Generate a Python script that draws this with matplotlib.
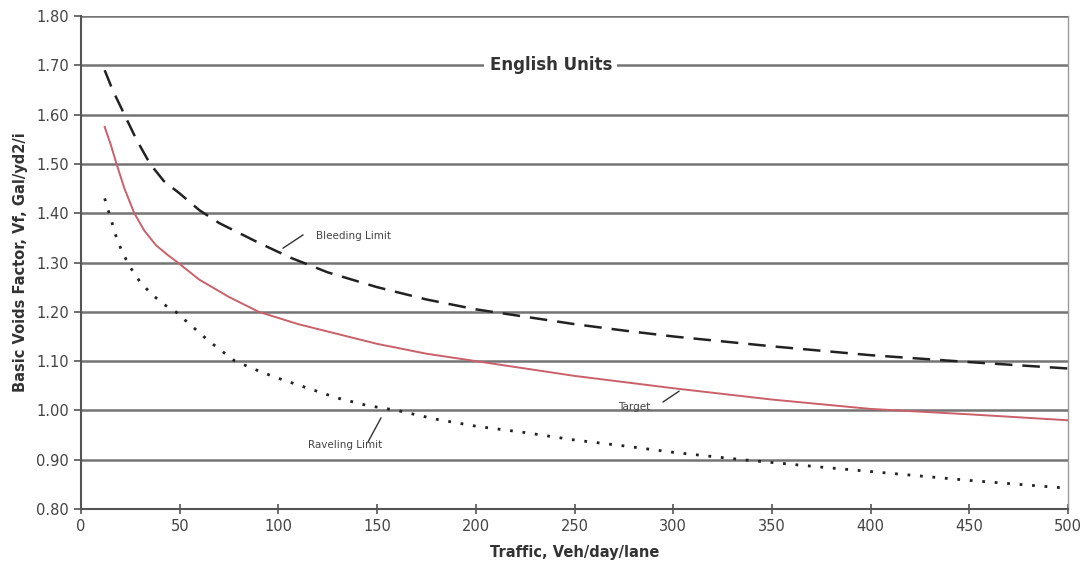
import matplotlib
matplotlib.use("Agg")
import matplotlib.pyplot as plt

# Data
bleed_x = [12, 16, 22, 28, 35, 42, 50, 60, 70, 80, 90, 106, 125, 150, 175, 200, 225, 250, 275, 300, 350, 400, 450, 500]
bleed_y = [1.69, 1.65, 1.60, 1.55, 1.50, 1.465, 1.44, 1.406, 1.38, 1.36, 1.34, 1.31, 1.28, 1.25, 1.225, 1.205, 1.19, 1.175, 1.162, 1.15, 1.13, 1.112, 1.098, 1.085]

target_x = [12, 15, 18, 22, 27, 32, 38, 44, 49, 60, 75, 90, 110, 130, 150, 175, 200, 250, 300, 350, 400, 450, 500]
target_y = [1.575, 1.54, 1.50, 1.45, 1.40, 1.365, 1.335, 1.315, 1.30, 1.265, 1.23, 1.20, 1.175, 1.155, 1.135, 1.115, 1.10, 1.07, 1.045, 1.022, 1.003, 0.992, 0.98]

ravel_x = [12, 15, 18, 21, 25, 30, 36, 42, 48, 55, 65, 78, 90, 100, 115, 130, 145, 160, 180, 200, 225, 250, 275, 300, 335, 375, 400, 450, 497]
ravel_y = [1.43, 1.39, 1.35, 1.32, 1.29, 1.26, 1.235, 1.215, 1.20, 1.175, 1.14, 1.10, 1.08, 1.065, 1.045, 1.025, 1.01, 1.00, 0.982, 0.968, 0.955, 0.94, 0.928, 0.915, 0.90, 0.885, 0.876, 0.858, 0.843]

yticks = [0.80, 0.90, 1.00, 1.10, 1.20, 1.30, 1.40, 1.50, 1.60, 1.70, 1.80]
xticks = [0, 50, 100, 150, 200, 250, 300, 350, 400, 450, 500]

fig = plt.figure(figsize=(10.89, 5.77), dpi=100)
ax = fig.add_axes([81/1089, 1-509/577, (1068-81)/1089, (509-16)/577])

for yv in yticks:
    ax.axhline(yv, color="#747474", lw=1.8, zorder=1)

ax.plot(bleed_x, bleed_y, color="#222222", lw=1.8, dashes=(7, 4), zorder=3)
ax.plot(target_x, target_y, color="#c9606a", lw=1.4, zorder=3)
ax.plot(ravel_x, ravel_y, color="#222222", lw=2.0, dashes=(1, 3.5), zorder=3)

ax.set_xlim(0, 500)
ax.set_ylim(0.80, 1.80)
ax.set_xticks(xticks)
ax.set_yticks(yticks)
ax.set_yticklabels([f"{v:.2f}" for v in yticks])
ax.tick_params(axis="y", direction="out", length=5, width=1.2, colors="#555555", labelsize=10.5, labelcolor="#444444")
ax.tick_params(axis="x", direction="inout", length=7, width=1.2, colors="#555555", labelsize=10.5, labelcolor="#444444")

for s in ["left", "bottom"]:
    ax.spines[s].set_color("#555555")
    ax.spines[s].set_linewidth(1.5)
ax.spines["top"].set_visible(False)
ax.spines["right"].set_color("#999999")
ax.spines["right"].set_linewidth(1.0)

ax.set_xlabel("Traffic, Veh/day/lane", fontsize=10.5, fontweight="bold", color="#333333", labelpad=8)
ax.set_ylabel("Basic Voids Factor, Vf, Gal/yd2/i", fontsize=10.5, fontweight="bold", color="#333333", labelpad=6)

ax.text(238, 1.70, "English Units", fontsize=12, fontweight="bold", color="#333333",
        ha="center", va="center", zorder=4,
        bbox=dict(facecolor="white", edgecolor="none", pad=4))

arrow = dict(arrowstyle="-", color="#333333", lw=1.0, shrinkA=0, shrinkB=0)

ax.text(119, 1.354, "Bleeding Limit", fontsize=7.5, color="#444444", ha="left", va="center")
ax.annotate("", xy=(102.3, 1.329), xytext=(112.5, 1.356), arrowprops=arrow)

ax.text(280, 1.007, "Target", fontsize=7.5, color="#444444", ha="center", va="center")
ax.annotate("", xy=(303, 1.039), xytext=(294.8, 1.017), arrowprops=arrow)

ax.text(133.7, 0.93, "Raveling Limit", fontsize=7.5, color="#444444", ha="center", va="center")
ax.annotate("", xy=(152, 0.985), xytext=(145.4, 0.936), arrowprops=arrow)

fig.savefig("out.png", dpi=100)
